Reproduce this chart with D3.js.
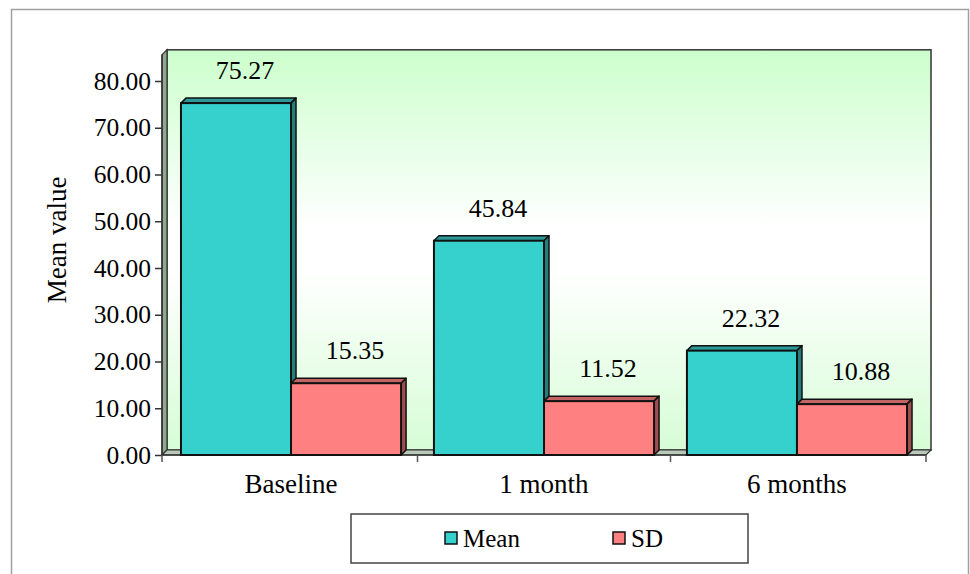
<!DOCTYPE html>
<html><head><meta charset="utf-8">
<script src="https://cdn.jsdelivr.net/npm/d3@7"></script>
<style>body{margin:0;background:#fff}svg{display:block}text{font-family:"Liberation Serif",serif !important;fill:#000}</style>
</head><body><svg id="c" width="970" height="574" font-family="Liberation Serif, serif"></svg>
<script>
const categories = ["Baseline", "1 month", "6 months"];
const seriesNames = ["Mean", "SD"];
const meanValues = [75.27, 45.84, 22.32];
const sdValues = [15.35, 11.52, 10.88];
const yTicks = [0, 10, 20, 30, 40, 50, 60, 70, 80];

const FONT = "Liberation Serif, serif";
const svg = d3.select("#c");
const left = 162, right = 926, bottom = 455;
const depth = 5;
const y = d3.scaleLinear().domain([0, 80]).range([bottom, 81]);
const wallTopVal = 85.6;
const x0 = d3.scaleBand().domain(categories).range([left, right]).paddingInner(0.13).paddingOuter(0.075);
const x1 = d3.scaleBand().domain(seriesNames).range([0, x0.bandwidth()]);
const colors = {Mean: {front: "#36D0CD", top: "#2A9997", side: "#237F7D"}, SD: {front: "#FF8080", top: "#C26464", side: "#9E4E4E"}};

// outer frame
svg.append("rect").attr("x", 11.5).attr("y", 9.5).attr("width", 957).attr("height", 580)
  .attr("fill", "none").attr("stroke", "#a0a0a0").attr("stroke-width", 1.5);

const defs = svg.append("defs");
const g = defs.append("linearGradient").attr("id", "wall").attr("x1", 0).attr("y1", 0).attr("x2", 0).attr("y2", 1);
g.append("stop").attr("offset", "0%").attr("stop-color", "#CCFFCC");
g.append("stop").attr("offset", "45%").attr("stop-color", "#FFFFFF");
g.append("stop").attr("offset", "55%").attr("stop-color", "#FFFFFF");
g.append("stop").attr("offset", "100%").attr("stop-color", "#D6FDD6");

const yTop = y(wallTopVal);
svg.append("rect").attr("x", left + depth).attr("y", yTop - depth).attr("width", right - left).attr("height", bottom - yTop)
  .attr("fill", "url(#wall)").attr("stroke", "#333").attr("stroke-width", 1.5);
svg.append("path").attr("d", `M${left},${bottom}L${left + depth},${bottom - depth}L${left + depth},${yTop - depth}L${left},${yTop}Z`)
  .attr("fill", "#8FA88F").attr("stroke", "#333").attr("stroke-width", 1.2);
svg.append("path").attr("d", `M${left},${bottom}L${right},${bottom}L${right + depth},${bottom - depth}L${left + depth},${bottom - depth}Z`)
  .attr("fill", "#B9C9B9").attr("stroke", "#333").attr("stroke-width", 1.2);

// y axis
const yAxis = d3.axisLeft(y).tickValues(yTicks).tickFormat(d3.format(".2f")).tickSize(7).tickPadding(4);
const ya = svg.append("g").attr("transform", `translate(${left},0)`).call(yAxis).attr("font-family", FONT);
ya.select(".domain").attr("d", `M0,${bottom}V${yTop}`).attr("stroke", "#333").attr("stroke-width", 1.5);
ya.selectAll(".tick line").attr("stroke", "#333").attr("stroke-width", 1.5);
ya.selectAll("text").attr("font-size", 25.5).attr("font-family", FONT).attr("fill", "#000");

// x axis
const xa = svg.append("g").attr("transform", `translate(0,${bottom})`);
xa.append("line").attr("x1", left).attr("x2", right).attr("stroke", "#333").attr("stroke-width", 1.5);
const bounds = [left].concat(categories.map(c => x0(c) + x0.bandwidth() + x0.step() * x0.paddingInner() / 2));
bounds[bounds.length - 1] = right;
xa.selectAll(".tk").data(bounds).enter().append("line")
  .attr("x1", d => d).attr("x2", d => d).attr("y1", 0).attr("y2", 7).attr("stroke", "#555").attr("stroke-width", 1.5);
xa.selectAll(".lab").data(categories).enter().append("text")
  .attr("x", d => (x0(d) - x0.step() * x0.paddingInner() / 2) + x0.step() / 2).attr("y", 38).attr("text-anchor", "middle")
  .attr("font-family", FONT).attr("font-size", 27).text(d => d);

// bars
const data = [];
categories.forEach((c, i) => {
  data.push({cat: c, s: "Mean", v: meanValues[i]});
  data.push({cat: c, s: "SD", v: sdValues[i]});
});
const bars = svg.append("g").selectAll("g").data(data).enter().append("g");
bars.each(function(d) {
  const gg = d3.select(this);
  const bx = x0(d.cat) + x1(d.s), bw = x1.bandwidth(), by = y(d.v);
  gg.append("path").attr("d", `M${bx},${by}L${bx + depth},${by - depth}L${bx + bw + depth},${by - depth}L${bx + bw},${by}Z`)
    .attr("fill", colors[d.s].top).attr("stroke", "#111").attr("stroke-width", 1.5).attr("stroke-linejoin", "round");
  gg.append("path").attr("d", `M${bx + bw},${by}L${bx + bw + depth},${by - depth}L${bx + bw + depth},${bottom - depth}L${bx + bw},${bottom}Z`)
    .attr("fill", colors[d.s].side).attr("stroke", "#111").attr("stroke-width", 1.5).attr("stroke-linejoin", "round");
  gg.append("rect").attr("x", bx).attr("y", by).attr("width", bw).attr("height", bottom - by)
    .attr("fill", colors[d.s].front).attr("stroke", "#111").attr("stroke-width", 2);
  gg.append("text").attr("x", bx + bw / 2 + 9).attr("y", by - depth - 19).attr("text-anchor", "middle")
    .attr("font-family", FONT).attr("font-size", 26).text(d3.format(".2f")(d.v));
});

// y title
svg.append("text").attr("transform", `translate(66,${(bottom + yTop) / 2 - 15}) rotate(-90)`)
  .attr("text-anchor", "middle").attr("font-family", FONT).attr("font-size", 27).text("Mean value");

// legend
const lg = svg.append("g");
lg.append("rect").attr("x", 351).attr("y", 514).attr("width", 397).attr("height", 49)
  .attr("fill", "#fff").attr("stroke", "#444").attr("stroke-width", 1.5);
const legendX = [445, 613];
seriesNames.forEach((s, i) => {
  lg.append("rect").attr("x", legendX[i]).attr("y", 532).attr("width", 12).attr("height", 12)
    .attr("fill", colors[s].front).attr("stroke", "#111").attr("stroke-width", 1.5);
  lg.append("text").attr("x", legendX[i] + 18).attr("y", 547).attr("font-family", FONT).attr("font-size", 25).text(s);
});
</script></body></html>
